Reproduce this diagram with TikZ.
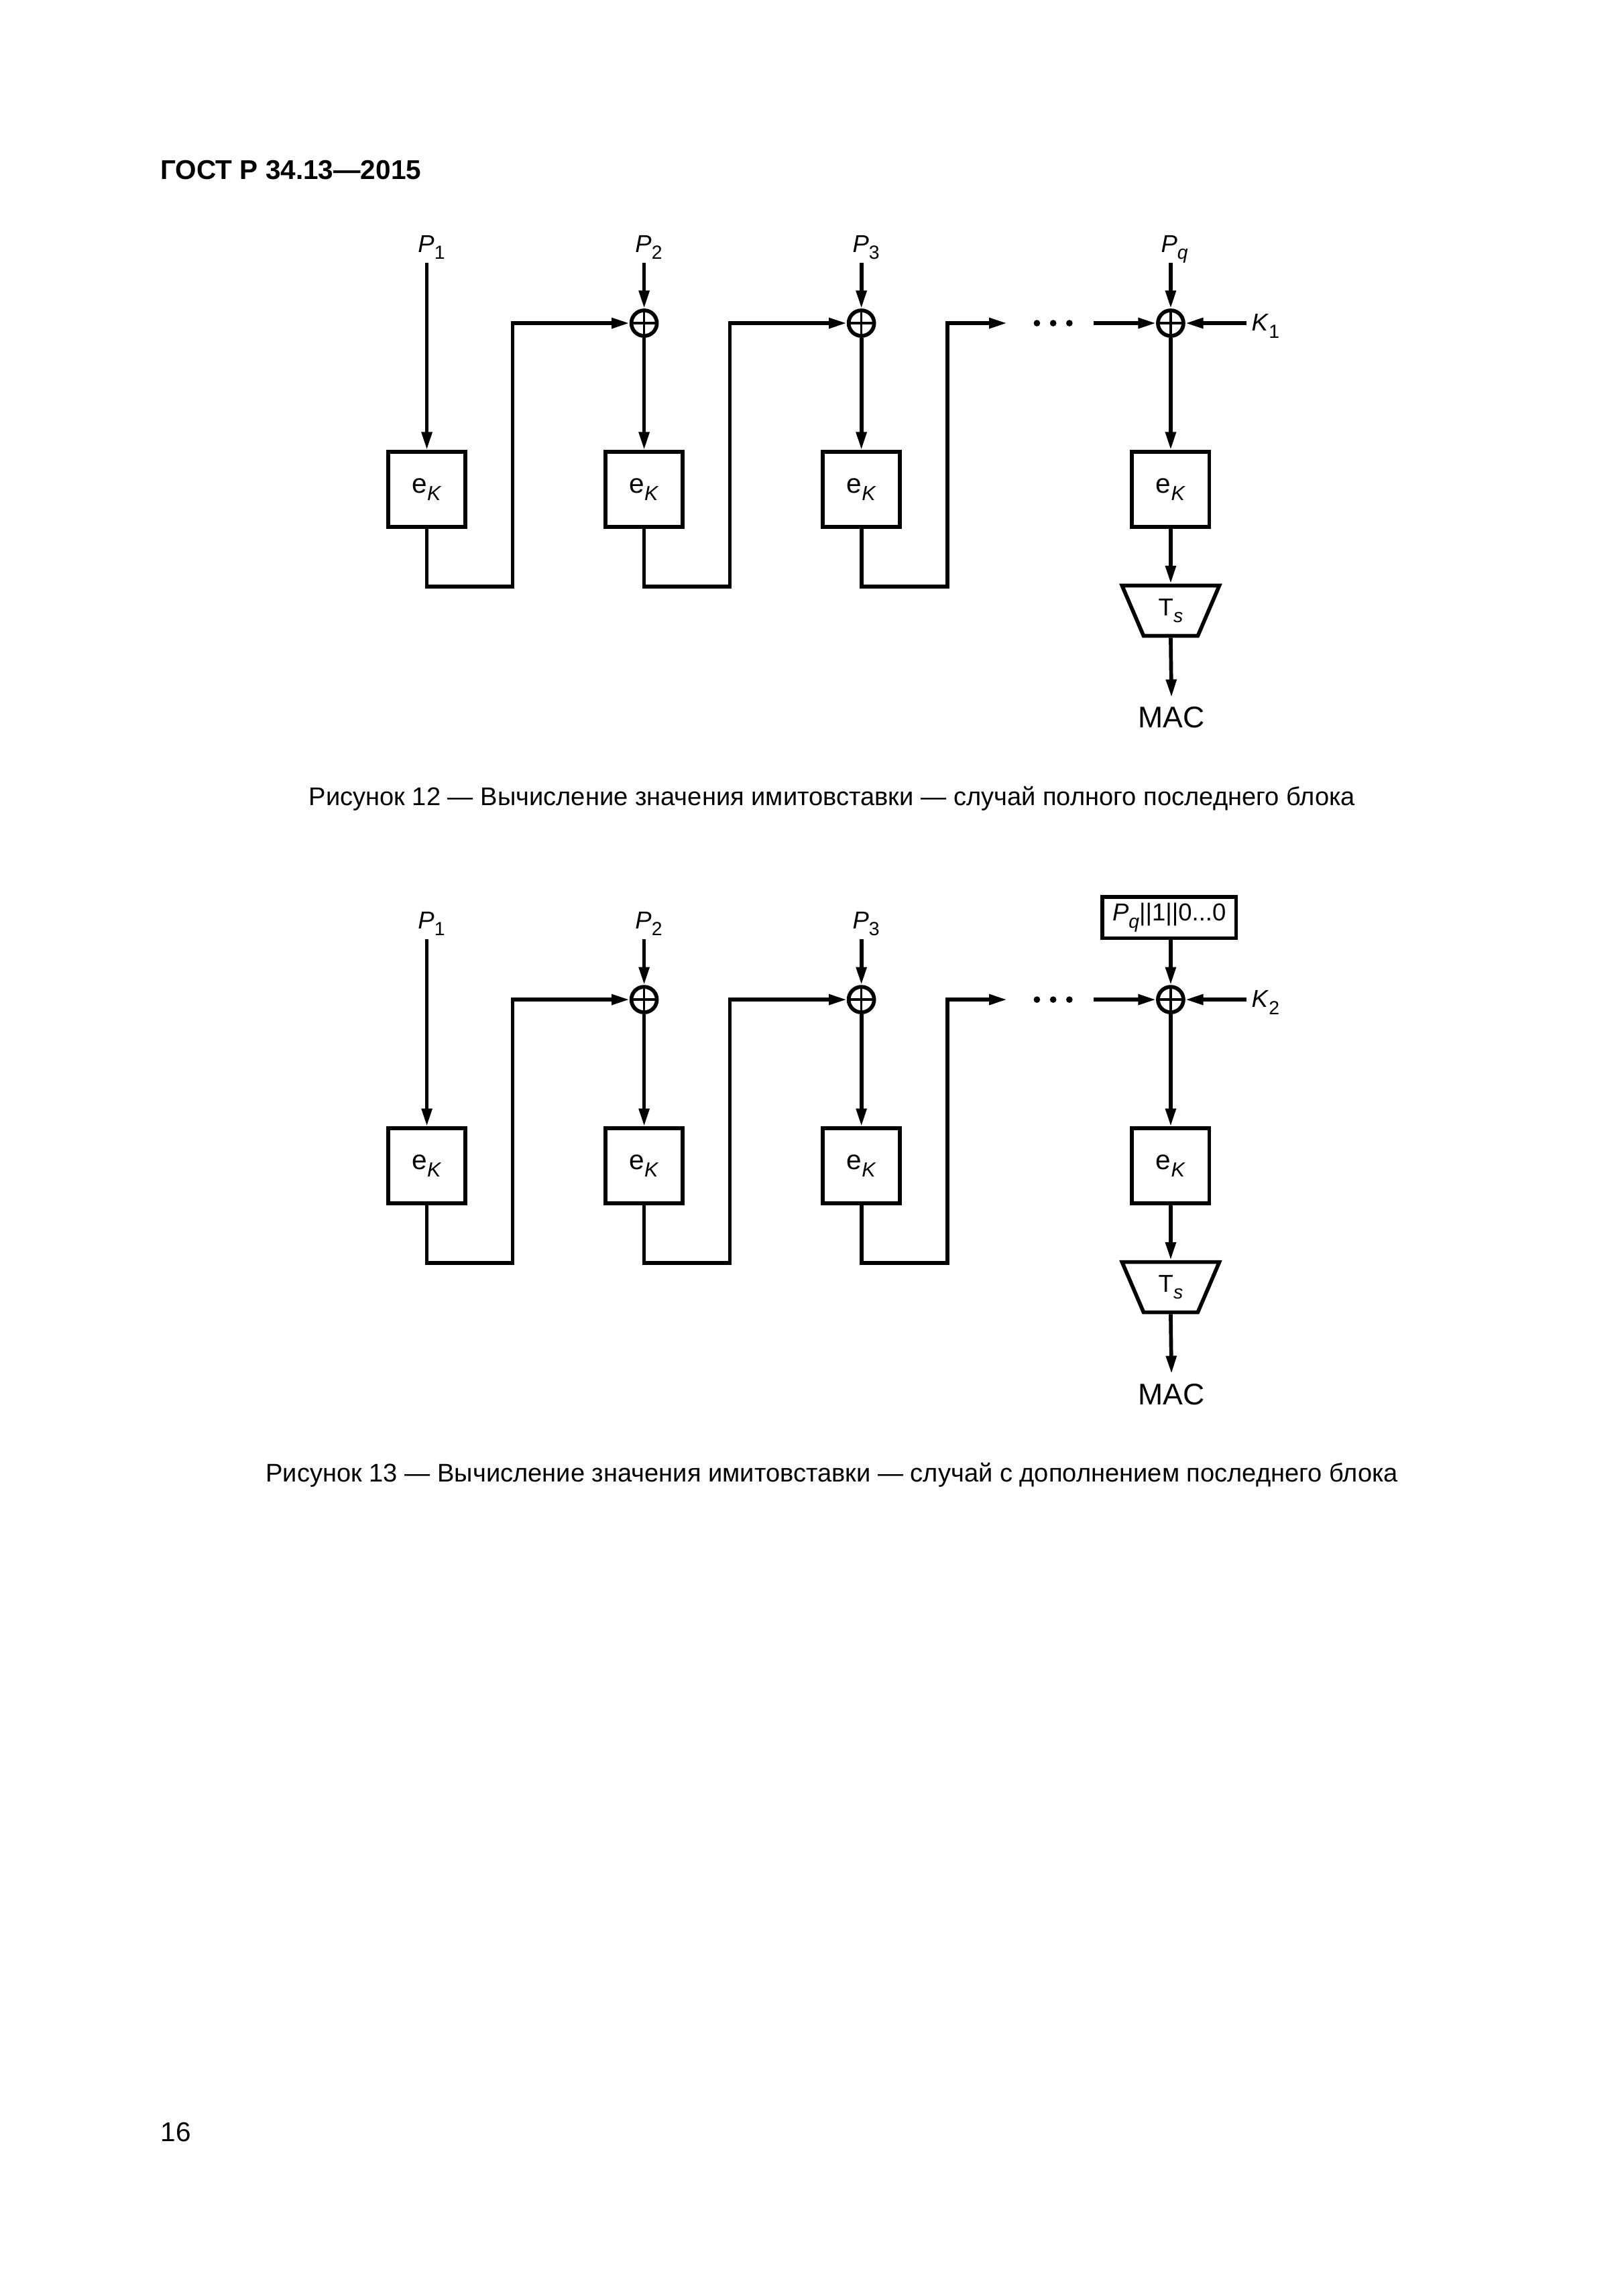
\documentclass[tikz,border=0pt]{standalone}
\usepackage{fontspec}
\setmainfont{Liberation Sans}
\usetikzlibrary{arrows.meta,shapes.geometric,positioning}

\newcommand{\subidx}[1]{\raisebox{-2.6pt}{\fontsize{7}{8}\selectfont #1}}
\newcommand{\Pin}[1]{\textit{P}\subidx{#1}}
\newcommand{\encK}{{\fontsize{10}{12}\selectfont e}\subidx{\fontsize{7.5}{8}\selectfont\textit{K}}}

\tikzset{
  wire/.style={line width=1.4pt},
  flow/.style={wire,-{Triangle[length=6.6pt,width=3.7pt]}},
  encbox/.style={draw,line width=1.4pt,minimum width=10mm,minimum height=9.7mm,inner sep=0pt},
  xorop/.style={draw,circle,line width=1.4pt,minimum size=3.3mm,inner sep=0pt,
    path picture={\draw[line width=0.9pt]
      (path picture bounding box.north) -- (path picture bounding box.south)
      (path picture bounding box.west) -- (path picture bounding box.east);}},
  inlabel/.style={inner sep=0pt,text depth=1.3mm},
  keylabel/.style={inner sep=0.6mm,anchor=base west},
  trunc/.style={draw,trapezium,trapezium left angle=112,trapezium right angle=112,
    trapezium stretches=true,minimum width=12.6mm,minimum height=6.5mm,
    line width=1.4pt,inner sep=0pt},
  padbox/.style={draw,line width=1.4pt,minimum width=17.3mm,minimum height=5.3mm,inner sep=0pt},
  maclabel/.style={inner xsep=0pt,inner ysep=1.2mm,anchor=north,font=\fontsize{11}{13}\selectfont},
  caption/.style={inner sep=0pt,anchor=base,font=\fontsize{9.4}{11}\selectfont},
}

\begin{document}
\begin{tikzpicture}[x=1mm,y=1mm,font=\fontsize{9}{11}\selectfont]
  \useasboundingbox (0,0) rectangle (210,-297);
  % header and page number
  \node[anchor=base west,inner sep=0pt,font=\fontsize{10}{12}\selectfont\bfseries] (head) at (20.7,-23.2) {ГОСТ Р 34.13—2015};
  \node[anchor=base west,inner sep=0pt,font=\fontsize{10}{12}\selectfont] (page) at (20.7,-277.0) {16};

  % figure 12: full last block
  \begin{scope}
    \foreach \i/\x in {1/55.2,2/83.3,3/111.4}{
      \node[inlabel,anchor=south] (p\i) at (\x+0.6,-34.0) {\Pin{\i}};
      \node[encbox] (e\i) at (\x,-63.3) {\encK};
    }
    \foreach \i/\x in {2/83.3,3/111.4}
      \node[xorop] (x\i) at (\x,-41.8) {};
    \node[minimum width=11.1mm,inner sep=0pt] (dots) at (135.85,-41.8) {};
    \foreach \d in {-1.75,0.35,2.45}
      \fill ([xshift=\d mm]dots.center) circle (0.42mm);
    % last block
    \node[inlabel,anchor=south] (pq) at (151.9,-34.0) {\textit{P}\subidx{\textit{q}}};
    \node[xorop] (xq) at (151.4,-41.8) {};
    \node[keylabel] (k) at (161.2,-42.8) {\textit{K}\subidx{1}};
    \node[encbox] (eq) at (151.4,-63.3) {\encK};
    \node[trunc] (ts) at (151.4,-79.0) {T\subidx{\textit{s}}};
    \node[maclabel] (mac) at (151.5,-90.2) {MAC};
    % inputs
    \draw[flow] (e1.north |- p1.south) -- (e1.north);
    \foreach \i in {2,3}{
      \draw[flow] (x\i.north |- p\i.south) -- (x\i.north);
      \draw[flow] (x\i.south) -- (e\i.north);
    }
    % chaining
    \draw[flow] (e1.south) -- ++(0,-7.5) -- ++(11.1,0) |- (x2.west);
    \draw[flow] (e2.south) -- ++(0,-7.5) -- ++(11.1,0) |- (x3.west);
    \draw[flow] (e3.south) -- ++(0,-7.5) -- ++(11.1,0) |- (dots.west);
    \draw[flow] (dots.east) -- (xq.west);
    \draw[flow] (xq.north |- pq.south) -- (xq.north);
    \draw[flow] (xq -| k.west) -- (xq.east);
    \draw[flow] (xq.south) -- (eq.north);
    \draw[flow] (eq.south) -- (ts.north);
    \draw[flow] (ts.south) -- (mac.north);
  \end{scope}
  \node[caption] (cap12) at (107.6,-104.2) {Рисунок 12 — Вычисление значения имитовставки — случай полного последнего блока};

  % figure 13: padded last block
  \begin{scope}[yshift=-87.5mm]
    \foreach \i/\x in {1/55.2,2/83.3,3/111.4}{
      \node[inlabel,anchor=south] (p\i) at (\x+0.6,-34.0) {\Pin{\i}};
      \node[encbox] (e\i) at (\x,-63.3) {\encK};
    }
    \foreach \i/\x in {2/83.3,3/111.4}
      \node[xorop] (x\i) at (\x,-41.8) {};
    \node[minimum width=11.1mm,inner sep=0pt] (dots) at (135.85,-41.8) {};
    \foreach \d in {-1.75,0.35,2.45}
      \fill ([xshift=\d mm]dots.center) circle (0.42mm);
    % last block
    \node[padbox] (pq) at (151.2,-31.2) {\textit{P}\subidx{\textit{q}}||1||0...0};
    \node[xorop] (xq) at (151.4,-41.8) {};
    \node[keylabel] (k) at (161.2,-42.8) {\textit{K}\subidx{2}};
    \node[encbox] (eq) at (151.4,-63.3) {\encK};
    \node[trunc] (ts) at (151.4,-79.0) {T\subidx{\textit{s}}};
    \node[maclabel] (mac) at (151.5,-90.2) {MAC};
    % inputs
    \draw[flow] (e1.north |- p1.south) -- (e1.north);
    \foreach \i in {2,3}{
      \draw[flow] (x\i.north |- p\i.south) -- (x\i.north);
      \draw[flow] (x\i.south) -- (e\i.north);
    }
    % chaining
    \draw[flow] (e1.south) -- ++(0,-7.5) -- ++(11.1,0) |- (x2.west);
    \draw[flow] (e2.south) -- ++(0,-7.5) -- ++(11.1,0) |- (x3.west);
    \draw[flow] (e3.south) -- ++(0,-7.5) -- ++(11.1,0) |- (dots.west);
    \draw[flow] (dots.east) -- (xq.west);
    \draw[flow] (xq.north |- pq.south) -- (xq.north);
    \draw[flow] (xq -| k.west) -- (xq.east);
    \draw[flow] (xq.south) -- (eq.north);
    \draw[flow] (eq.south) -- (ts.north);
    \draw[flow] (ts.south) -- (mac.north);
  \end{scope}
  \node[caption] (cap13) at (107.6,-191.7) {Рисунок 13 — Вычисление значения имитовставки — случай с дополнением последнего блока};
\end{tikzpicture}
\end{document}
